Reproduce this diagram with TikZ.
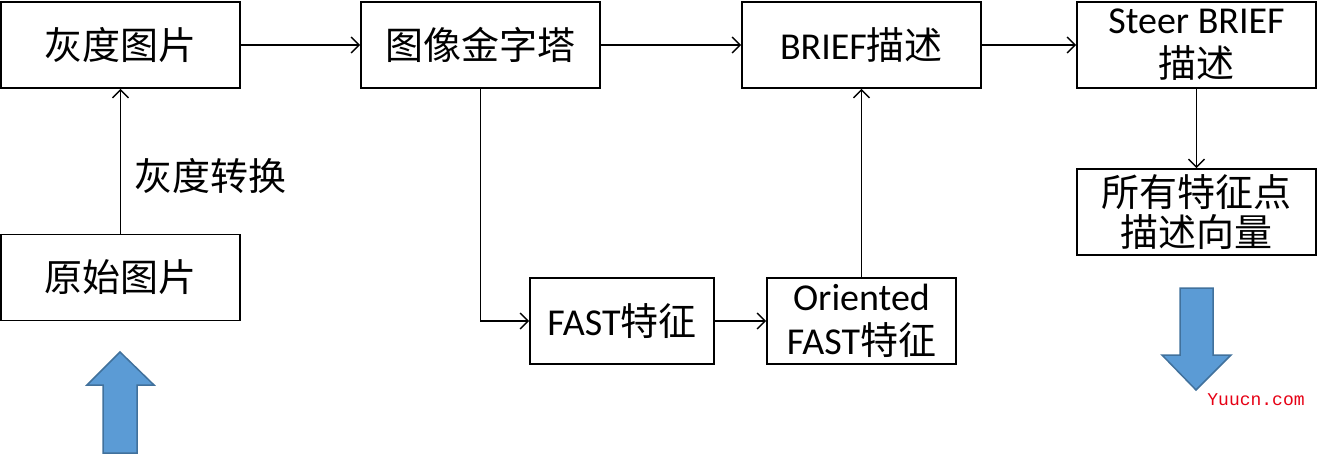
\documentclass[tikz,border=0pt]{standalone}
\usepackage{fontspec}
\setmainfont{Carlito}
\newfontfamily\cjk{Noto Sans CJK SC}
\newfontfamily\wmfont{Liberation Mono}
\usetikzlibrary{arrows.meta}
\tikzset{
  box/.style={draw=black, line width=1.8pt, inner sep=0pt, align=center, minimum width=239pt, minimum height=86pt},
  big/.style={font=\fontsize{38}{46}\selectfont},
  mid/.style={font=\fontsize{38}{46}\selectfont},
  conn/.style={draw=black, line width=1.4pt, -{Straight Barb[length=8pt,width=16pt,line width=1.4pt]}},
  blockarrow/.style={fill={rgb,255:red,91;green,155;blue,213}, draw={rgb,255:red,65;green,113;blue,156}, line width=1.5pt, line join=miter}
}
\begin{document}
\begin{tikzpicture}[x=1pt,y=-1pt]
\useasboundingbox (0,0) rectangle (1318,455);
\node[box,big] (g) at (120.5,45) {\cjk 灰度图片};
\node[box,big] (p) at (480.5,45) {\cjk 图像金字塔};
\node[box,mid] (b) at (861.5,45) {BRIEF{\cjk 描述}};
\node[box,mid] (s) at (1196.5,45) {Steer BRIEF\\[-2pt]{\cjk 描述}};
\node[box,big] (o) at (120.5,277.5) {\cjk 原始图片};
\node[box,mid,minimum width=184pt] (f) at (622,321) {FAST{\cjk 特征}};
\node[box,mid,minimum width=189pt] (of) at (861.5,321) {Oriented\\[-2pt]FAST{\cjk 特征}};
\node[box,big] (a) at (1196.5,212) {\cjk 所有特征点\\[-6pt]\cjk 描述向量};
\node[big,anchor=west,inner sep=0pt] (lbl) at (134,176) {\cjk 灰度转换};
\draw[conn] (g.east) -- (p.west);
\draw[conn] (p.east) -- (b.west);
\draw[conn] (b.east) -- (s.west);
\draw[conn] (o.north) -- (g.south);
\draw[conn] (p.south) |- (f.west);
\draw[conn] (f.east) -- (of.west);
\draw[conn] (of.north) -- (b.south);
\draw[conn] (s.south) -- (a.north);
\draw[blockarrow] (120,352) -- (87,385) -- (103,385) -- (103,453) -- (137,453) -- (137,385) -- (154,385) -- cycle;
\draw[blockarrow] (1196,390) -- (1162,355) -- (1180,355) -- (1180,288) -- (1213,288) -- (1213,355) -- (1231,355) -- cycle;
\node[text={rgb,255:red,230;green,0;blue,20}, font=\wmfont\fontsize{18}{18}\selectfont] (wm) at (1256,400) {Yuucn.com};
\end{tikzpicture}
\end{document}
